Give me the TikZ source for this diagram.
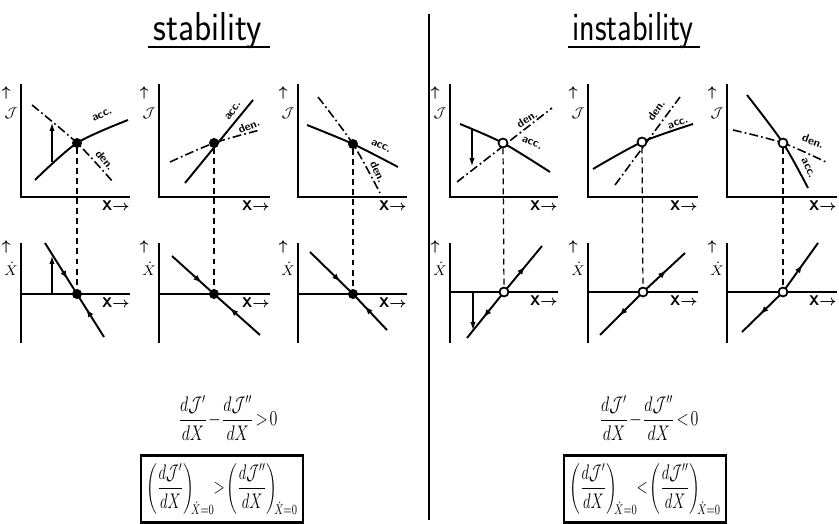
\documentclass[tikz,border=0pt]{standalone}
\usepackage{amsmath, amssymb}
\usepackage{graphicx}
\usetikzlibrary{arrows.meta, decorations.markings}

\begin{document}
\begin{tikzpicture}[x=0.02cm, y=-0.02cm,
      axis/.style={line width=1.1pt},
      acc/.style={line width=1.1pt},
      den/.style={line width=0.9pt, dash pattern=on 5pt off 1.8pt on 1pt off 1.8pt},
      drop/.style={line width=0.7pt, dash pattern=on 3.4pt off 2.3pt},
      push/.style={line width=0.6pt, -{Latex[length=4.5pt,width=3pt]}},
      tomid/.style={postaction={decorate}, decoration={markings, mark=at position #1 with {\arrow{Latex[length=4.5pt,width=3.5pt]}}}},
      stab/.style={circle, fill, inner sep=0pt, minimum size=0.2cm},
      unst/.style={circle, draw, fill=white, line width=1pt, inner sep=0pt, minimum size=0.18cm},
      lbl/.style={font=\sffamily\bfseries\fontsize{6.5}{6.5}\selectfont, inner sep=0pt},
      xlab/.style={font=\sffamily\bfseries\fontsize{8}{8}\selectfont, inner sep=0pt},
      ylab/.style={font=\sffamily\bfseries\fontsize{8}{8}\selectfont, inner sep=0pt},
      title/.style={font=\sffamily\fontsize{23}{26}\selectfont, inner sep=0pt},
      eqn/.style={font=\fontsize{12}{14}\selectfont, inner sep=3pt}
    ]
      \useasboundingbox (0,0) rectangle (839,524);

      % headings and divider
      \node[title, anchor=base] (tstab) at (208,40) {\scalebox{0.88}[1]{stability}};
      \node[title, anchor=base] (tinst) at (633,40) {\scalebox{0.8}[1]{instability}};
      \draw[line width=1.6pt] (148,47) -- (270,47);
      \draw[line width=1.6pt] (568,47) -- (700,47);
      \draw[line width=1.1pt] (429,14) -- (429,520);

      % axes of the twelve graphs
      \foreach \ax/\ex/\by [count=\i] in {21/130/294, 159/270/294, 298/407/294, 450/558/292, 588/698/292, 727/837/292} {
        \draw[axis] (\ax,84) -- (\ax,197) -- (\ex,197);
        \node[xlab, anchor=north east] (xt\i) at (\ex,200) {X$\boldsymbol{\to}$};
        \node[ylab] (jt\i) at (\ax-10,103) {\shortstack{$\boldsymbol{\uparrow}$\\[2pt]$\mathcal{J}$}};
        \draw[axis] (\ax,243) -- (\ax,343);
        \draw[axis] (\ax,\by) -- (\ex,\by);
        \node[xlab, anchor=north east] (xb\i) at (\ex,\by+3) {X$\boldsymbol{\to}$};
        \node[ylab] (jb\i) at (\ax-10,258) {\shortstack{$\boldsymbol{\uparrow}$\\[2pt]$\dot{X}$}};
      }

      % stability, first pair
      \draw[acc] plot[smooth] coordinates {(35,180) (77,143) (128,120)};
      \draw[den] plot[smooth] coordinates {(32,105) (77,143) (113,182)};
      \draw[push] (52,162) -- (52,123);
      \node[lbl, rotate=25] (a1) at (102,115) {acc.};
      \node[lbl, rotate=-50] (d1) at (105,160) {den.};
      \draw[acc, tomid=0.7] (45,243) -- (77,294);
      \draw[acc, tomid=0.65] (104,337) -- (77,294);
      \draw[push] (52,294) -- (52,256);
      \node[stab] (p1) at (77,143) {};
      \node[stab] (q1) at (77,294) {};
      \draw[drop] (p1) -- (q1);

      % stability, second pair
      \draw[acc] (185,183) -- (253,100);
      \draw[den] plot[smooth] coordinates {(170,162) (214,143) (260,130)};
      \node[lbl, rotate=55] (a2) at (233,111) {acc.};
      \node[lbl, rotate=22] (d2) at (249,126) {den.};
      \draw[acc, tomid=0.7] (172,256) -- (214,294);
      \draw[acc, tomid=0.65] (260,335) -- (214,294);
      \node[stab] (p2) at (214,143) {};
      \node[stab] (q2) at (214,294) {};
      \draw[drop] (p2) -- (q2);

      % stability, third pair
      \draw[acc] plot[smooth] coordinates {(307,125) (353,144) (398,167)};
      \draw[den] plot[smooth] coordinates {(318,97) (353,144) (380,193)};
      \node[lbl, rotate=-25] (a3) at (381,146) {acc.};
      \node[lbl, rotate=-65] (d3) at (378,172) {den.};
      \draw[acc, tomid=0.7] (310,252) -- (353,294);
      \draw[acc, tomid=0.65] (387,330) -- (353,294);
      \node[stab] (p3) at (353,144) {};
      \node[stab] (q3) at (353,294) {};
      \draw[drop] (p3) -- (q3);

      % instability, first pair
      \draw[acc] plot[smooth] coordinates {(460,124) (503,143) (550,172)};
      \draw[den] (457,182) -- (552,108);
      \draw[push] (472,130) -- (472,166);
      \node[lbl, rotate=32] (d4) at (527,119) {den.};
      \node[lbl, rotate=-22] (a4) at (532,143) {acc.};
      \draw[acc, tomid=0.55] (504,292) -- (467,338);
      \draw[acc, tomid=0.55] (504,292) -- (542,246);
      \draw[push] (473,292) -- (473,330);
      \node[unst] (p4) at (503,143) {};
      \node[unst] (q4) at (504,292) {};
      \draw[drop] (p4) -- (q4);

      % instability, second pair
      \draw[acc] plot[smooth] coordinates {(593,169) (642,142) (693,124)};
      \draw[den] (615,185) -- (680,97);
      \node[lbl, rotate=55] (d5) at (656,110) {den.};
      \node[lbl, rotate=20] (a5) at (678,123) {acc.};
      \draw[acc, tomid=0.55] (643,292) -- (600,335);
      \draw[acc, tomid=0.55] (643,292) -- (685,253);
      \node[unst] (p5) at (642,142) {};
      \node[unst] (q5) at (643,292) {};
      \draw[drop] (p5) -- (q5);

      % instability, third pair
      \draw[acc] plot[smooth] coordinates {(747,95) (783,143) (808,188)};
      \draw[den] plot[smooth] coordinates {(733,130) (783,143) (828,163)};
      \node[lbl, rotate=-20] (d6) at (813,141) {den.};
      \node[lbl, rotate=-65] (a6) at (808,168) {acc.};
      \draw[acc, tomid=0.55] (783,292) -- (742,332);
      \draw[acc, tomid=0.55] (783,292) -- (818,243);
      \node[unst] (p6) at (783,143) {};
      \node[unst] (q6) at (783,292) {};
      \draw[drop] (p6) -- (q6);

      % conditions
      \node[eqn] (c1) at (228,418) {\scalebox{0.76}[1]{$\dfrac{d\mathcal{J}'}{dX}\!-\!\dfrac{d\mathcal{J}''}{dX}\!>\!0$}};
      \node[eqn, draw, line width=1.3pt, minimum height=1.34cm] (b1) at (222,489) {\scalebox{0.7}[1]{$\left(\dfrac{d\mathcal{J}'}{dX}\right)_{\!\!\dot{X}=0}\!\!>\!\left(\dfrac{d\mathcal{J}''}{dX}\right)_{\!\!\dot{X}=0}$}};
      \node[eqn] (c2) at (649,418) {\scalebox{0.76}[1]{$\dfrac{d\mathcal{J}'}{dX}\!-\!\dfrac{d\mathcal{J}''}{dX}\!<\!0$}};
      \node[eqn, draw, line width=1.3pt, minimum height=1.34cm] (b2) at (645,489) {\scalebox{0.7}[1]{$\left(\dfrac{d\mathcal{J}'}{dX}\right)_{\!\!\dot{X}=0}\!\!<\!\left(\dfrac{d\mathcal{J}''}{dX}\right)_{\!\!\dot{X}=0}$}};
    \end{tikzpicture}
\end{document}
